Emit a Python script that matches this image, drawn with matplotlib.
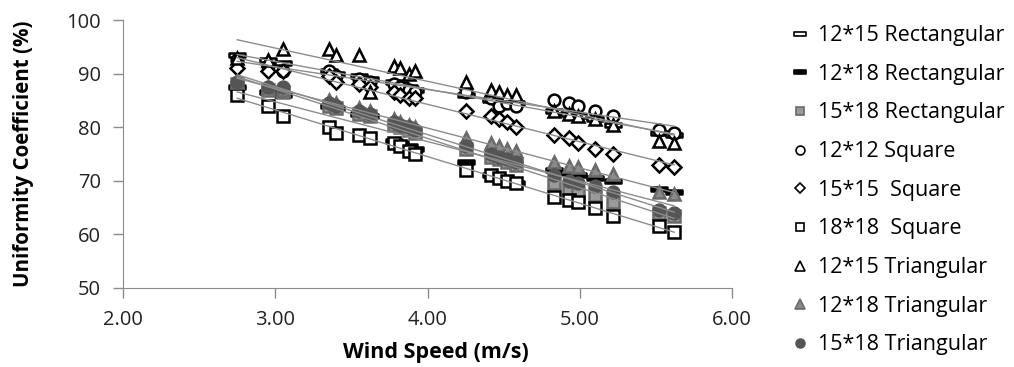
import numpy as np
import matplotlib.pyplot as plt
from matplotlib.path import Path

# wind speed (m/s) shared by all layouts
wind = [2.75, 2.95, 3.05, 3.35, 3.40, 3.55, 3.62, 3.78, 3.82, 3.88, 3.92, 4.25,
        4.42, 4.47, 4.52, 4.58, 4.83, 4.93, 4.99, 5.10, 5.22, 5.52, 5.62]

# uniformity coefficient (%) per layout
rect_12x15 = [93.5, 92.5, 92.0, 90.5, 90.0, 89.5, 89.0, 88.5, 88.0, 87.5, 87.0, 86.0,
              85.0, 85.0, 84.5, 84.5, 83.0, 82.5, 82.0, 81.5, 80.5, 79.0, 78.5]
rect_12x18 = [87.5, 86.5, 86.0, 84.0, 83.5, 82.5, 82.0, 77.5, 77.0, 76.5, 76.0, 73.5,
              71.0, 70.5, 70.0, 69.5, 72.0, 71.5, 71.0, 70.5, 70.0, 68.5, 68.0]
rect_15x18 = [88.0, 87.0, 86.5, 84.0, 83.5, 82.5, 82.0, 80.5, 80.0, 79.5, 79.0, 76.0,
              74.5, 74.0, 73.5, 73.0, 69.5, 68.7, 67.8, 67.3, 66.0, 64.0, 63.5]
sq_12x12 = [92.5, 91.5, 90.5, 90.5, 89.5, 89.0, 88.5, 88.0, 87.5, 87.0, 86.5, 86.5,
            85.5, 84.0, 84.5, 84.0, 85.0, 84.5, 84.0, 83.0, 82.0, 79.5, 79.0]
sq_15x15 = [91.0, 90.5, 90.5, 89.5, 88.5, 88.0, 87.5, 86.5, 86.0, 85.5, 85.5, 83.0,
            82.0, 81.5, 81.0, 80.0, 78.5, 78.0, 77.0, 76.0, 75.0, 73.0, 72.5]
sq_18x18 = [86.0, 84.0, 82.0, 80.0, 79.0, 78.5, 78.0, 77.0, 76.5, 75.5, 75.0, 72.0,
            71.0, 70.5, 70.0, 69.5, 67.0, 66.5, 66.0, 65.0, 63.5, 61.5, 60.5]
tri_12x15 = [93.0, 92.5, 94.5, 94.5, 93.5, 93.5, 86.5, 91.5, 91.0, 90.0, 90.5, 88.5,
             87.0, 86.5, 86.0, 86.0, 83.0, 82.5, 82.0, 81.5, 80.5, 77.5, 77.0]
tri_12x18 = [88.5, 87.5, 87.0, 85.0, 84.5, 83.5, 83.0, 81.5, 81.0, 80.5, 80.0, 78.0,
             77.0, 76.5, 76.0, 75.5, 73.5, 72.8, 72.5, 72.0, 71.3, 68.0, 67.5]
tri_15x18 = [88.5, 87.5, 87.5, 84.5, 84.0, 83.0, 82.5, 81.0, 80.5, 80.0, 79.5, 76.5,
             75.0, 74.5, 74.0, 73.5, 71.0, 70.0, 69.5, 69.0, 68.0, 64.5, 64.0]

labels = ['12*15 Rectangular', '12*18 Rectangular', '15*18 Rectangular',
          '12*12 Square', '15*15  Square', '18*18  Square',
          '12*15 Triangular', '12*18 Triangular', '15*18 Triangular']
series = [rect_12x15, rect_12x18, rect_15x18, sq_12x12, sq_15x15, sq_18x18,
          tri_12x15, tri_12x18, tri_15x18]

# wide flat rectangle like the Excel "dash" marker
dash = Path([(-1, -0.3), (1, -0.3), (1, 0.3), (-1, 0.3), (-1, -0.3)],
            [Path.MOVETO, Path.LINETO, Path.LINETO, Path.LINETO, Path.CLOSEPOLY])

styles = [
    dict(marker=dash, mfc='white', mec='black', ms=11),
    dict(marker=dash, mfc='black', mec='black', ms=11),
    dict(marker='s', mfc='#9a9a9a', mec='#6a6a6a', ms=8),
    dict(marker='o', mfc='white', mec='black', ms=8.5),
    dict(marker='D', mfc='white', mec='black', ms=7),
    dict(marker='s', mfc='white', mec='black', ms=8),
    dict(marker='^', mfc='white', mec='black', ms=9),
    dict(marker='^', mfc='#8a8a8a', mec='#6a6a6a', ms=9),
    dict(marker='o', mfc='#555555', mec='#555555', ms=8.5),
]

plt.rcParams['font.family'] = ['Open Sans', 'DejaVu Sans']

fig = plt.figure(figsize=(10.14, 3.67), dpi=100)
ax = fig.add_axes([0.1213, 0.2153, 0.6006, 0.7302])

x = np.array(wind)
for vals, lab, st in zip(series, labels, styles):
    ax.plot(x, np.array(vals), linestyle='none', mew=1.8, label=lab, zorder=3, **st)
# linear trend line for every layout
for vals in series:
    k, b = np.polyfit(x, np.array(vals), 1)
    xs = np.array([x.min(), x.max()])
    ax.plot(xs, k * xs + b, color='#8c8c8c', lw=1.0, zorder=4)

ax.set_xlim(2, 6)
ax.set_ylim(50, 100)
ax.set_xticks([2, 3, 4, 5, 6])
ax.set_xticklabels(['%.2f' % v for v in [2, 3, 4, 5, 6]])
ax.set_yticks([50, 60, 70, 80, 90, 100])
for s in ['top', 'right']:
    ax.spines[s].set_visible(False)
for s in ['left', 'bottom']:
    ax.spines[s].set_color('#8c8c8c')
ax.tick_params(colors='#8c8c8c', labelcolor='#222222', labelsize=14.5, length=7, width=1)
ax.tick_params(axis='x', pad=9)
ax.tick_params(axis='y', pad=9)

ax.set_xlabel('Wind Speed (m/s)', fontsize=15.5, fontweight='bold', va='top')
ax.xaxis.set_label_coords(0.514, -0.2)
ax.set_ylabel('Uniformity Coefficient (%)', fontsize=14.8, fontweight='bold')
ax.yaxis.set_label_coords(-0.146, 0.5)

leg_handles = []
for st in styles:
    s = dict(st)
    s['ms'] = st['ms'] * 0.75
    leg_handles.append(plt.Line2D([], [], linestyle='none', mew=1.2, **s))
fig.legend(leg_handles, labels, loc='upper left', bbox_to_anchor=(0.772, 0.955),
           frameon=False, fontsize=15.5, labelspacing=0.82, handlelength=0.8,
           handletextpad=0.45, borderaxespad=0)

fig.savefig('out.png', dpi=100)
